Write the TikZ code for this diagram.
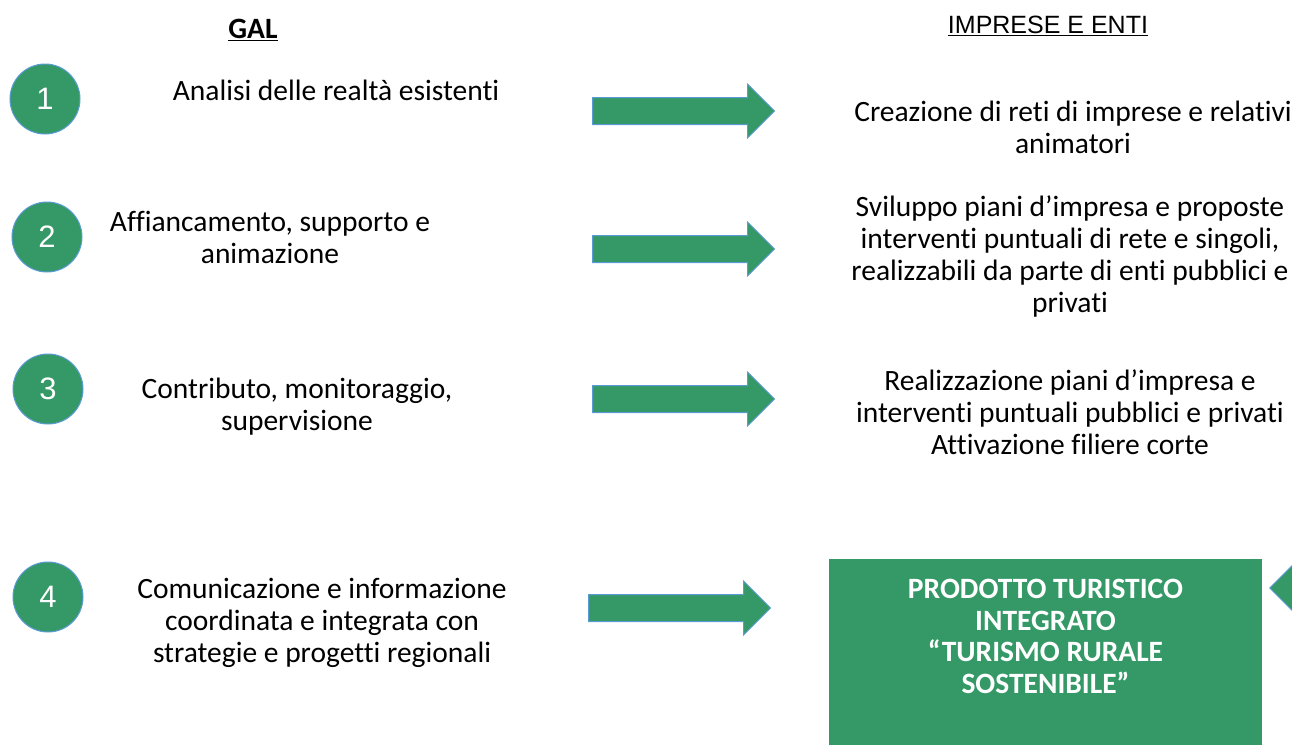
\documentclass[tikz,border=0pt]{standalone}
\usepackage{fontspec}
\setmainfont{Carlito}[Ligatures=NoCommon]
\newfontfamily\arialfont{Liberation Sans}
\usepackage{xcolor}
\usepackage{tikz}
\usetikzlibrary{positioning, shapes.arrows}

\definecolor{galgreen}{RGB}{52,153,102}
\definecolor{galblue}{RGB}{91,155,213}

\begin{document}
\begin{tikzpicture}[x=1pt, y=-1pt]

\tikzstyle{every node}=[font=\fontsize{29.5}{32}\selectfont]
\tikzstyle{numcircle}=[circle, fill=galgreen, draw=galblue, line width=1, minimum size=70, inner sep=0, text=white, font=\arialfont\fontsize{31}{31}\selectfont]
\tikzstyle{blockarrow}=[single arrow, fill=galgreen, draw=galblue, line width=1, minimum height=182, minimum width=53, single arrow head extend=13.5, inner xsep=0, inner ysep=13, anchor=tail]
\tikzstyle{phase}=[align=center, inner sep=0]
\tikzstyle{prodbox}=[rectangle, fill=galgreen, minimum width=433, minimum height=186, inner sep=0]

\useasboundingbox (0,0) rectangle (1292,744);

% headers %
\node (gal) at (253,30) {\underline{\textbf{GAL}}};
\node[font=\arialfont\fontsize{25}{30}\selectfont] (enti) at (1048,26) {\underline{IMPRESE E ENTI}};

% steps %
\node[numcircle] (c1) at (45,99) {1};
\node[numcircle] (c2) at (47,237) {2};
\node[numcircle] (c3) at (48,389) {3};
\node[numcircle] (c4) at (48,597) {4};

\node[phase] (gal1) at (336,90) {Analisi delle realtà esistenti};
\node[phase] (gal2) at (270,237) {Affiancamento, supporto e\\animazione};
\node[phase] (gal3) at (297,407) {Contributo, monitoraggio,\\supervisione};
\node[phase] (gal4) at (322,623) {Comunicazione e informazione\\coordinata e integrata con\\strategie e progetti regionali};

% arrows %
\node[blockarrow] (a1) at (592,111) {};
\node[blockarrow] (a2) at (592,249) {};
\node[blockarrow] (a3) at (592,399) {};
\node[blockarrow] (a4) at (588,608) {};

% results %
\node[phase] (ente1) at (1073,127) {Creazione di reti di imprese e relativi\\animatori};
\node[phase] (ente2) at (1070,256) {Sviluppo piani d’impresa e proposte\\interventi puntuali di rete e singoli,\\realizzabili da parte di enti pubblici e\\privati};
\node[phase] (ente3) at (1070,412) {Realizzazione piani d’impresa e\\interventi puntuali pubblici e privati\\Attivazione filiere corte};

% product %
\node[prodbox] (prod) at (1045.5,652) {};
\node[phase, text=white, font=\bfseries\fontsize{29.5}{31.5}\selectfont] (prodtext) at ([yshift=15.5]prod.center) {PRODOTTO TURISTICO\\INTEGRATO\\“TURISMO RURALE\\SOSTENIBILE”};

\begin{scope}
\clip (0,0) rectangle (1292,744);
\node[blockarrow, shape border rotate=180, anchor=tip] (back) at (1269,588) {};
\end{scope}

\end{tikzpicture}
\end{document}
